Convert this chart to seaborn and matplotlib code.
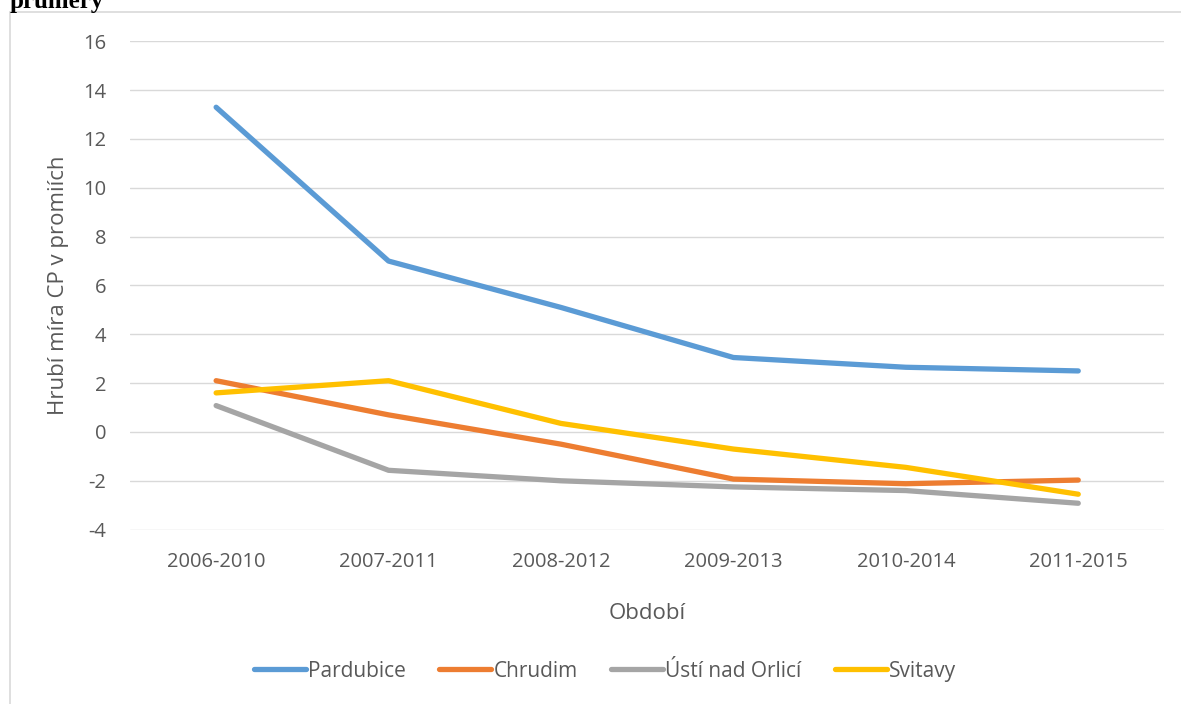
import numpy as np
import pandas as pd
import seaborn as sns
import matplotlib.pyplot as plt
from matplotlib.lines import Line2D

# data
obdobi = ["2006-2010", "2007-2011", "2008-2012", "2009-2013", "2010-2014", "2011-2015"]
pardubice = [13.3, 7.0, 5.1, 3.05, 2.65, 2.5]
chrudim = [2.1, 0.7, -0.5, -1.93, -2.12, -1.97]
usti = [1.08, -1.57, -2.0, -2.25, -2.4, -2.92]
svitavy = [1.6, 2.1, 0.35, -0.7, -1.45, -2.55]
nazvy = ["Pardubice", "Chrudim", "Ústí nad Orlicí", "Svitavy"]
barvy = ["#5B9BD5", "#ED7D31", "#A5A5A5", "#FFC000"]

rows = []
for name, vals in zip(nazvy, [pardubice, chrudim, usti, svitavy]):
    for o, v in zip(obdobi, vals):
        rows.append({"Období": o, "hodnota": v, "okres": name})
df = pd.DataFrame(rows)

sns.set_theme(style="white")
plt.rcParams['font.family'] = ['Open Sans', 'DejaVu Sans']
plt.rcParams['axes.unicode_minus'] = False

fig = plt.figure(figsize=(11.81, 7.04), dpi=100)
ax = fig.add_axes([0.110, 0.247, 0.876, 0.695])

sns.lineplot(data=df, x="Období", y="hodnota", hue="okres", palette=barvy,
             hue_order=nazvy, linewidth=3.8, ax=ax, sort=False)
for ln in ax.get_lines():
    ln.set_solid_capstyle("round")

ax.set_xlim(-0.5, 5.5)
ax.set_ylim(-4.02, 16.02)
ax.set_yticks(range(-4, 17, 2))
ax.yaxis.grid(True, color="#D9D9D9", linewidth=1.0)
ax.set_axisbelow(True)
for s in ax.spines.values():
    s.set_visible(False)
ax.tick_params(axis="both", colors="#595959", labelsize=14.5, length=0)
ax.tick_params(axis="y", pad=17)
ax.tick_params(axis="x", pad=16)
ax.set_xlabel("Období", color="#595959", fontsize=16, labelpad=22)
ax.set_ylabel("Hrubí míra CP v promiích", color="#595959", fontsize=16, labelpad=10)

handles = [Line2D([0], [0], color=c, linewidth=3.8, solid_capstyle="round") for c in barvy]
leg = ax.legend(handles, nazvy, loc="center", bbox_to_anchor=(0.459, -0.288), ncol=4,
                frameon=False, fontsize=15, handlelength=2.5, handletextpad=0.1,
                columnspacing=1.6)
for t in leg.get_texts():
    t.set_color("#595959")

# cut-off title and outer chart frame
fig.text(0.008, 1 - 8 / 704, "průměry", fontsize=18, fontweight="bold",
         family="Liberation Serif", va="baseline", ha="left", color="black")
fig.add_artist(Line2D([10 / 1181, 10 / 1181], [0, 1 - 12 / 704], color="#D9D9D9",
                      linewidth=1.2, transform=fig.transFigure))
fig.add_artist(Line2D([10 / 1181, 1], [1 - 12 / 704, 1 - 12 / 704], color="#D9D9D9",
                      linewidth=1.2, transform=fig.transFigure))

fig.savefig("out.png", dpi=100)
